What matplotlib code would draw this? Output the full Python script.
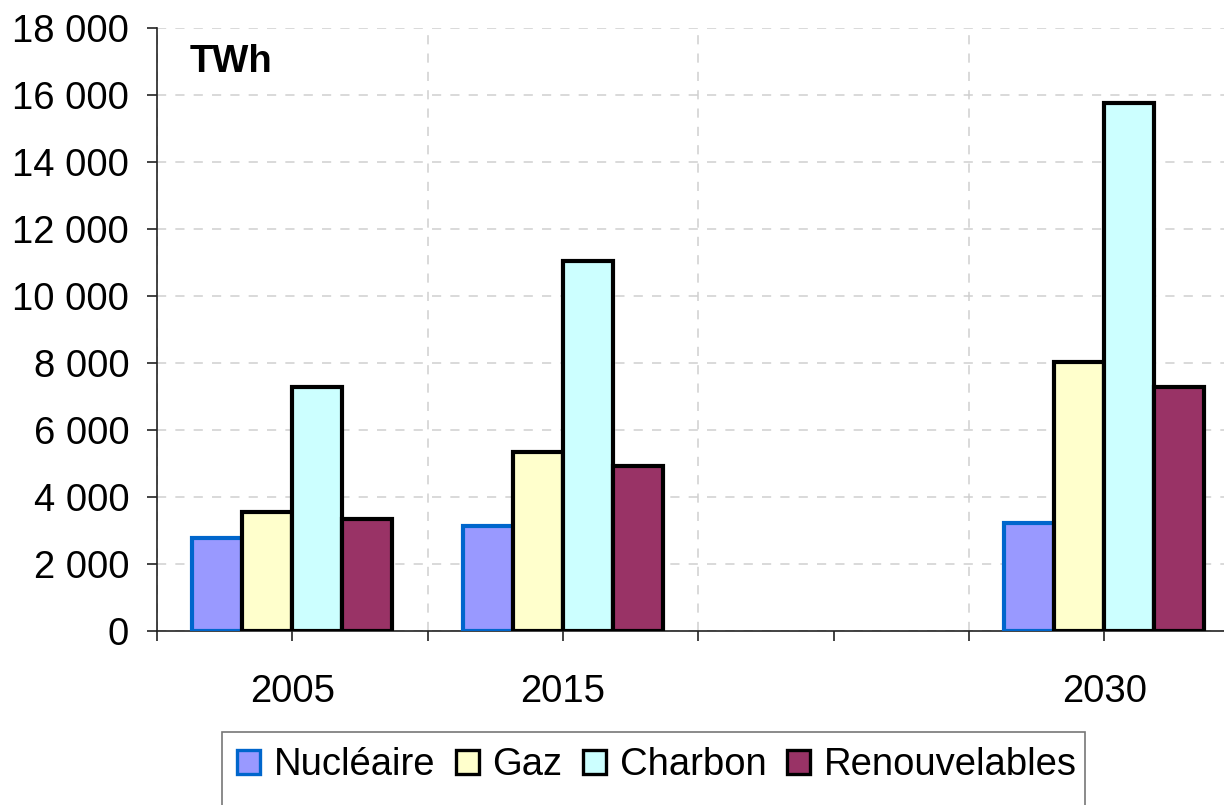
import numpy as np
import matplotlib
matplotlib.use("Agg")
import matplotlib.pyplot as plt
from matplotlib.patches import Rectangle, Patch
from matplotlib.ticker import FuncFormatter, FixedLocator

# ---- data ----
categories = ["2005", "2015", "", "2030"]
series_names = ["Nucléaire", "Gaz", "Charbon", "Renouvelables"]
nucleaire = [2790, 3130, np.nan, 3230]
gaz = [3540, 5340, np.nan, 8040]
charbon = [7280, 11040, np.nan, 15770]
renouvelables = [3330, 4930, np.nan, 7290]
series_values = [nucleaire, gaz, charbon, renouvelables]
face_colors = ["#9999FF", "#FFFFCC", "#CCFFFF", "#993366"]
edge_colors = ["#0066CC", "#000000", "#000000", "#000000"]
unit_label = "TWh"

plt.rcParams['font.family'] = ['Liberation Sans', 'DejaVu Sans']
FS = 27.5

W, H = 1224, 805
fig = plt.figure(figsize=(W / 100, H / 100), dpi=100)
ax_left = 157 / W
ax_bottom = (H - 631) / H
ax_width = (4 * 270.67) / W
ax_height = (631 - 28) / H
ax = fig.add_axes([ax_left, ax_bottom, ax_width, ax_height])

n = len(series_names)
bw = 0.185
x = np.arange(len(categories))
for i, (name, vals) in enumerate(zip(series_names, series_values)):
    vals = np.array(vals, dtype=float)
    mask = ~np.isnan(vals)
    ax.bar(x[mask] + (i - (n - 1) / 2) * bw, vals[mask], width=bw,
           color=face_colors[i], edgecolor=edge_colors[i], linewidth=3.0,
           label=name, zorder=3)

ax.set_xlim(-0.5, len(categories) - 0.5)
ax.set_ylim(0, 18000)
ax.set_yticks(np.arange(0, 18001, 2000))
ax.yaxis.set_major_formatter(FuncFormatter(lambda v, p: f"{int(v):,}".replace(",", " ")))

# x axis: major ticks at category boundaries (gridlines), minor at centers (labels)
ax.xaxis.set_major_locator(FixedLocator(np.arange(-0.5, len(categories), 1.0)))
ax.xaxis.set_minor_locator(FixedLocator(x))
ax.xaxis.set_major_formatter(FuncFormatter(lambda v, p: ""))
ax.set_xticklabels(categories, minor=True)

ax.tick_params(axis='y', which='major', length=7, width=1.2, color='#222222',
               labelsize=FS, pad=13)
ax.tick_params(axis='x', which='both', length=7, width=1.2, color='#222222',
               labelsize=FS, pad=24)

ax.grid(True, axis='both', which='major', linestyle=(0, (6, 6)),
        color='#cfcfcf', linewidth=1.1, zorder=0)
ax.set_axisbelow(True)

for s in ['top', 'right']:
    ax.spines[s].set_visible(False)
ax.spines['left'].set_color('#222222')
ax.spines['left'].set_linewidth(1.2)
ax.spines['bottom'].set_color('#222222')
ax.spines['bottom'].set_linewidth(1.2)

ax.text(33 / 1082.7, (631 - 72) / 603, unit_label, transform=ax.transAxes,
        fontsize=FS, fontweight='bold', ha='left', va='baseline')

# legend
handles = [Patch(facecolor=face_colors[i], edgecolor=edge_colors[i], linewidth=2.4)
           for i in range(n)]
leg = fig.legend(handles, series_names, loc='upper left',
                 bbox_to_anchor=(222 / W, 1 - 732 / H), ncol=4, frameon=False,
                 fontsize=FS, handlelength=0.6, handleheight=0.6,
                 handletextpad=0.35, columnspacing=0.55, borderpad=0.4,
                 borderaxespad=0)
fig.patches.append(Rectangle((222 / W, -0.05), (1085 - 222) / W, 0.05 + (H - 732) / H,
                             transform=fig.transFigure, fill=False,
                             edgecolor='#777777', linewidth=1.2))

fig.savefig("out.png", dpi=100)
